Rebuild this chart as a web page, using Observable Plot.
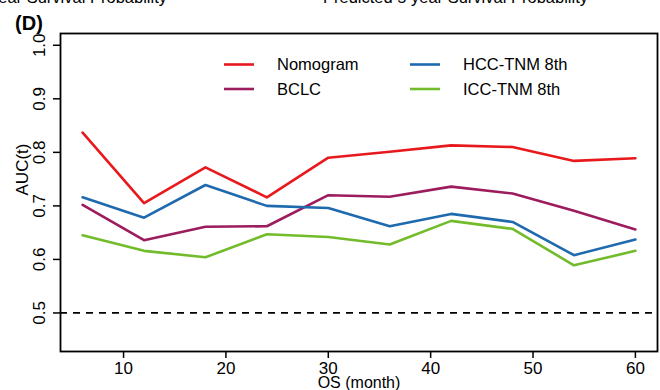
<!DOCTYPE html>
<html>
<head>
<meta charset="utf-8">
<script src="https://cdn.jsdelivr.net/npm/d3@7"></script>
<script src="https://cdn.jsdelivr.net/npm/@observablehq/plot@0.6"></script>
<style>
  html, body { margin: 0; padding: 0; background: #fff; }
  #wrap { position: relative; width: 660px; height: 390px; overflow: hidden; font-family: "Liberation Sans", Arial, sans-serif; }
  #wrap > svg { position: absolute; left: 0; top: 0; }
</style>
</head>
<body>
<div id="wrap"></div>
<script>
// Time-dependent AUC by follow-up month
const months = [6, 12, 18, 24, 30, 36, 42, 48, 54, 60];
const nomogram = [0.837, 0.705, 0.772, 0.716, 0.790, 0.801, 0.813, 0.810, 0.784, 0.789];
const bclc     = [0.702, 0.636, 0.661, 0.662, 0.720, 0.717, 0.736, 0.723, 0.691, 0.656];
const hccTnm   = [0.716, 0.678, 0.739, 0.700, 0.696, 0.662, 0.685, 0.670, 0.608, 0.637];
const iccTnm   = [0.645, 0.616, 0.604, 0.647, 0.642, 0.628, 0.672, 0.657, 0.589, 0.616];

const seriesNames  = ["Nomogram", "BCLC", "HCC-TNM 8th", "ICC-TNM 8th"];
const seriesColors = ["#E8191D", "#9C1C5E", "#1F6AAE", "#72BC2C"];
const xTicks = [10, 20, 30, 40, 50, 60];
const yTicks = [0.5, 0.6, 0.7, 0.8, 0.9, 1.0];
const refLine = [0.5];

const seriesValues = [nomogram, bclc, hccTnm, iccTnm];
const rows = seriesNames.flatMap((name, i) =>
  months.map((m, j) => ({ month: m, auc: seriesValues[i][j], model: name }))
);

const font = "'Liberation Sans', Arial, sans-serif";

const chart = Plot.plot({
  width: 660,
  height: 390,
  marginLeft: 60,
  marginRight: 3,
  marginTop: 33,
  marginBottom: 39,
  style: { fontFamily: font, fontSize: "17px", color: "#000", background: "#fff" },
  x: { domain: [3.84, 62.16] },
  y: { domain: [0.428, 1.022] },
  color: { domain: seriesNames, range: seriesColors },
  marks: [
    Plot.ruleY(refLine, { stroke: "#000", strokeWidth: 1.7, strokeDasharray: "7,6" }),
    Plot.line(rows, { x: "month", y: "auc", z: "model", stroke: "model", strokeWidth: 2.6 }),
    Plot.axisX({ ticks: xTicks, tickSize: 7, tickPadding: 3, tickFormat: d => d, label: null, fontSize: 17, strokeWidth: 1.5 }),
    Plot.axisY({ ticks: yTicks, tickSize: 7, tickFormat: () => "", label: null, strokeWidth: 1.5 }),
    Plot.text(yTicks, { y: d => d, text: d => d.toFixed(1), frameAnchor: "left", dx: -21, rotate: -90, textAnchor: "middle", lineAnchor: "middle", fontSize: 17 }),
    Plot.text(["OS (month)"], { frameAnchor: "bottom", dy: 31, lineAnchor: "middle", fontSize: 16 }),
    Plot.text(["AUC(t)"], { frameAnchor: "left", dx: -38, dy: -23, rotate: -90, textAnchor: "middle", lineAnchor: "middle", fontSize: 17 }),
    Plot.frame({ stroke: "#000", strokeWidth: 1.8 })
  ]
});

const wrap = document.getElementById("wrap");
wrap.appendChild(chart);

// Panel label, neighbouring panel titles and the series legend
const deco = d3.select(wrap).append("svg")
  .attr("width", 660).attr("height", 390)
  .style("pointer-events", "none")
  .attr("font-family", font);

deco.append("text").attr("x", 167).attr("y", 3).attr("text-anchor", "end")
  .attr("font-size", 16.5).text("Predicted  3 year Survival Probability");
deco.append("text").attr("x", 588).attr("y", 3).attr("text-anchor", "end")
  .attr("font-size", 16.5).text("Predicted  5 year Survival Probability");
deco.append("text").attr("x", 29).attr("y", 30).attr("text-anchor", "middle")
  .attr("font-size", 20).attr("font-weight", "bold").text("(D)");

// Two legend columns: Nomogram/BCLC on the left, the TNM stagings on the right
const legendItems = [
  { name: seriesNames[0], color: seriesColors[0], col: 0, row: 0 },
  { name: seriesNames[1], color: seriesColors[1], col: 0, row: 1 },
  { name: seriesNames[2], color: seriesColors[2], col: 1, row: 0 },
  { name: seriesNames[3], color: seriesColors[3], col: 1, row: 1 }
];
const colX = [224, 410];
const rowY = [64.5, 89];
const g = deco.append("g");
legendItems.forEach(it => {
  const x0 = colX[it.col], y0 = rowY[it.row];
  g.append("line").attr("x1", x0).attr("x2", x0 + 30).attr("y1", y0).attr("y2", y0)
    .attr("stroke", it.color).attr("stroke-width", 2.6);
  g.append("text").attr("x", x0 + 53).attr("y", y0).attr("dy", "0.35em")
    .attr("font-size", 16.5).text(it.name);
});
</script>
</body>
</html>
